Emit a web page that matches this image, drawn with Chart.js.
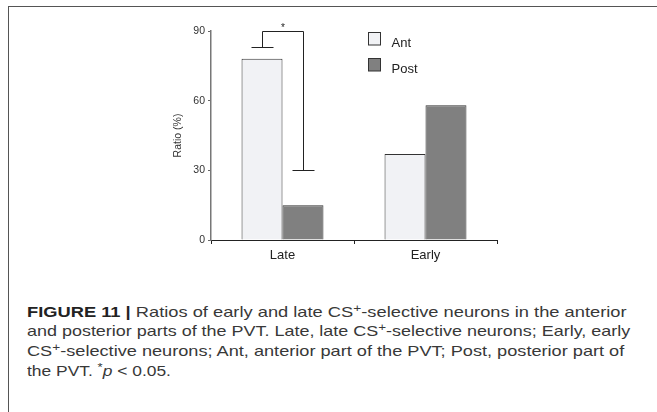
<!DOCTYPE html>
<html>
<head>
<meta charset="utf-8">
<script src="https://cdn.jsdelivr.net/npm/chart.js@4.4.1/dist/chart.umd.min.js"></script>
<style>
  html, body { margin: 0; padding: 0; background: #fff; }
  body { width: 657px; height: 412px; position: relative; overflow: hidden; }
  #frame { position: absolute; left: 8px; top: 6px; right: -2px; bottom: -2px; border-left: 1px solid #555; border-top: 1px solid #555; }
  #wrap { position: absolute; left: 0; top: 0; width: 657px; height: 290px; }
  #caption { position: absolute; left: 26.5px; top: 302.5px; font-family: "Liberation Sans", Arial, sans-serif; font-size: 14.5px; line-height: 19.7px; color: #383838; white-space: nowrap; }
  #caption div { transform-origin: 0 0; }
  #caption b { color: #222; }
  #caption sup { font-size: 0.75em; line-height: 0; vertical-align: 0.42em; }
</style>
</head>
<body>
<div id="frame"></div>
<div id="wrap"><canvas id="ratioChart" width="657" height="290"></canvas></div>
<div id="caption">
  <div style="transform: scaleX(1.261)"><b>FIGURE 11 |</b> Ratios of early and late CS<sup>+</sup>-selective neurons in the anterior</div>
  <div style="transform: scaleX(1.238)">and posterior parts of the PVT. Late, late CS<sup>+</sup>-selective neurons; Early, early</div>
  <div style="transform: scaleX(1.252)">CS<sup>+</sup>-selective neurons; Ant, anterior part of the PVT; Post, posterior part of</div>
  <div style="transform: scaleX(1.2)">the PVT. <sup>*</sup><i>p</i> &lt; 0.05.</div>
</div>
<script>
// groups on the x axis
const categories = ['Late', 'Early'];
// ratio (%) of neurons per PVT part
const antValues = [78, 37];
const postValues = [15, 58];
const seriesNames = ['Ant', 'Post'];
const yTicks = [0, 30, 60, 90];
// significance bracket: cap over Ant, top line, cap over Post (in %)
const sigLevels = [83, 90, 30];
const sigText = '*';

Chart.defaults.font.family = '"Liberation Sans", Arial, sans-serif';
Chart.defaults.color = '#333';

// little vertical legend in the upper right of the plot
const boxLegend = {
  id: 'boxLegend',
  afterDraw(chart) {
    const ctx = chart.ctx;
    const x0 = 368.5, y0 = 32.5, gap = 26;
    ctx.save();
    chart.data.datasets.forEach((ds, i) => {
      const y = y0 + i * gap;
      ctx.fillStyle = ds.backgroundColor;
      ctx.strokeStyle = '#333';
      ctx.lineWidth = 1;
      ctx.fillRect(x0, y, 12, 12.5);
      ctx.strokeRect(x0, y, 12, 12.5);
      ctx.fillStyle = '#222';
      ctx.font = '13px "Liberation Sans", Arial, sans-serif';
      ctx.textBaseline = 'alphabetic';
      ctx.fillText(ds.label, 391.5, y + 14);
    });
    ctx.restore();
  }
};

// bracket with the asterisk between Ant and Post of the first group
const sigBracket = {
  id: 'sigBracket',
  afterDatasetsDraw(chart) {
    const ctx = chart.ctx;
    const yScale = chart.scales.y;
    const xa = Math.round(chart.getDatasetMeta(0).data[0].x) + 0.5;
    const xp = Math.round(chart.getDatasetMeta(1).data[0].x) + 0.5;
    const ya = Math.round(yScale.getPixelForValue(sigLevels[0])) + 0.5;
    const yt = Math.round(yScale.getPixelForValue(sigLevels[1])) + 0.5;
    const yp = Math.round(yScale.getPixelForValue(sigLevels[2])) + 0.5;
    const half = 11;
    ctx.save();
    ctx.strokeStyle = '#222';
    ctx.lineWidth = 1;
    ctx.beginPath();
    ctx.moveTo(xa - half, ya); ctx.lineTo(xa + half, ya);
    ctx.moveTo(xa, ya); ctx.lineTo(xa, yt); ctx.lineTo(xp, yt); ctx.lineTo(xp, yp);
    ctx.moveTo(xp - half, yp); ctx.lineTo(xp + half, yp);
    ctx.stroke();
    ctx.fillStyle = '#222';
    ctx.font = '10px "Liberation Sans", Arial, sans-serif';
    ctx.textAlign = 'center';
    ctx.textBaseline = 'alphabetic';
    ctx.fillText(sigText, (xa + xp) / 2, yt - 0.5);
    ctx.restore();
  }
};

new Chart(document.getElementById('ratioChart'), {
  type: 'bar',
  data: {
    labels: categories,
    datasets: [
      { label: seriesNames[0], data: antValues, backgroundColor: '#f1f2f5', borderColor: '#333', borderWidth: 1 },
      { label: seriesNames[1], data: postValues, backgroundColor: '#808080', borderColor: '#333', borderWidth: 1 }
    ]
  },
  options: {
    responsive: false,
    animation: false,
    events: [],
    layout: { padding: { left: 168, right: 160, top: 31, bottom: 20 } },
    datasets: { bar: { categoryPercentage: 0.573, barPercentage: 1 } },
    plugins: { legend: { display: false }, tooltip: { enabled: false } },
    scales: {
      x: {
        offset: true,
        afterFit(scale) { scale.height = 30; },
        grid: { offset: true, drawOnChartArea: false, tickLength: 4, color: '#222' },
        border: { color: '#222', width: 1 },
        ticks: { font: { size: 13 }, color: '#222', padding: 4 }
      },
      y: {
        min: 0,
        max: 90,
        afterFit(scale) { scale.width = 43; },
        afterBuildTicks(scale) { scale.ticks = yTicks.map(v => ({ value: v })); },
        grid: { drawOnChartArea: false, tickLength: 3, color: '#666' },
        border: { color: '#777', width: 1.5 },
        ticks: { font: { size: 10.5 }, color: '#333', padding: 3 },
        title: { display: true, text: 'Ratio (%)', font: { size: 10.5 }, color: '#333', padding: { top: 4, bottom: 0 } }
      }
    }
  },
  plugins: [sigBracket, boxLegend]
});
</script>
</body>
</html>
